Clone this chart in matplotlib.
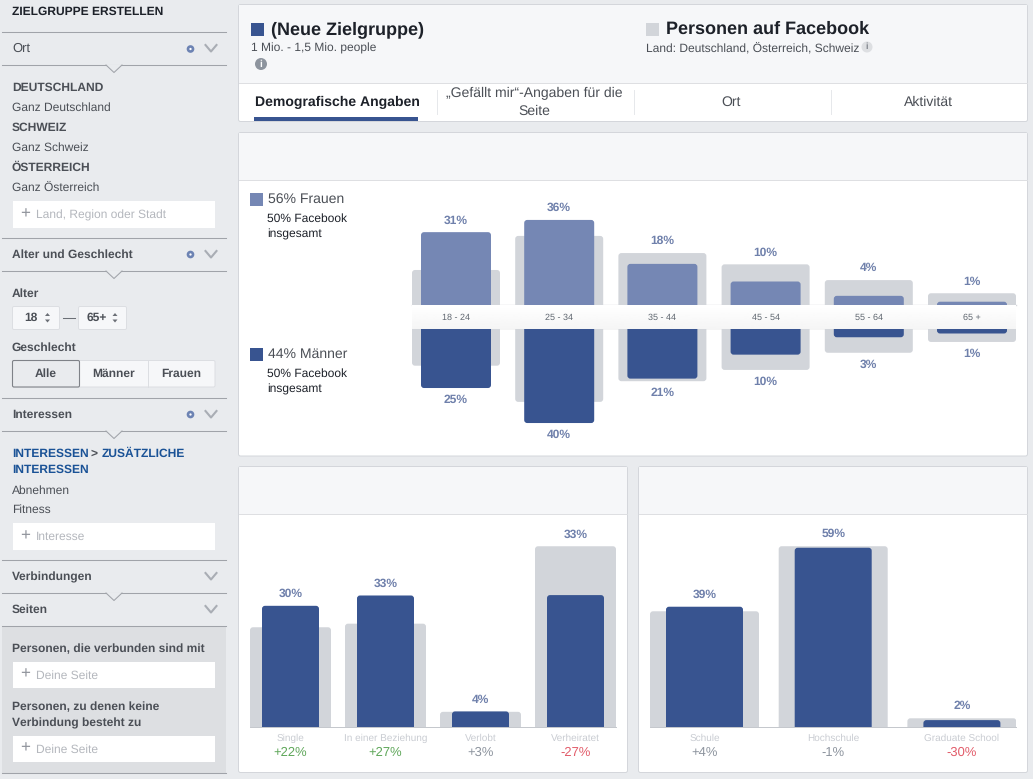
from matplotlib import pyplot as plt
from matplotlib.patches import FancyBboxPatch, Rectangle, Polygon, Circle
import numpy as np

plt.rcParams['font.family'] = ['Liberation Sans', 'DejaVu Sans']
plt.rcParams['text.hinting'] = 'none'
plt.rcParams['text.hinting_factor'] = 1

# age / gender chart
age_labels = ['18 - 24', '25 - 34', '35 - 44', '45 - 54', '55 - 64', '65 +']
women_text = ['31%', '36%', '18%', '10%', '4%', '1%']
men_text = ['25%', '40%', '21%', '10%', '3%', '1%']
women = [31, 36.2, 17.5, 10, 3.9, 1.4]
men = [24.9, 39.8, 20.9, 10.7, 3.3, 1.7]
women_fb = [14.9, 29.4, 22.1, 17.3, 10.6, 5]
men_fb = [15.4, 30.8, 22, 17.2, 9.9, 5.3]

# relationship chart
rel_labels = ['Single', 'In einer Beziehung', 'Verlobt', 'Verheiratet']
rel_text = ['30%', '33%', '4%', '33%']
rel_delta = ['+22%', '+27%', '+3%', '-27%']
rel = [30.4, 33, 3.8, 33.1]
rel_fb = [25, 25.9, 3.7, 45.4]

# education chart
edu_labels = ['Schule', 'Hochschule', 'Graduate School']
edu_text = ['39%', '59%', '2%']
edu_delta = ['+4%', '-1%', '-30%']
edu = [39.4, 58.8, 2.1]
edu_fb = [37.9, 59.3, 2.7]

BG = '#e9ebee'
BLUE = '#385490'
LIGHT = '#7587b4'
GREY = '#d2d5da'
LABEL = '#6f80ab'
BORDER = '#d3d6db'
W, H = 1033, 779


def px(size):
    return size * 0.72


fig = plt.figure(figsize=(W / 100, H / 100), dpi=100, facecolor=BG)
bg = fig.add_axes([0, 0, 1, 1])
bg.set_axis_off()


def box(x0, y0, x1, y1, fc='white', ec='none', lw=1, r=0, z=1):
    if r:
        p = FancyBboxPatch((x0, y0), x1 - x0, y1 - y0, boxstyle=f'round,pad=0,rounding_size={r}',
                           fc=fc, ec=ec, lw=lw, zorder=z)
    else:
        p = Rectangle((x0, y0), x1 - x0, y1 - y0, fc=fc, ec=ec, lw=lw, zorder=z)
    bg.add_patch(p)


def txt(x, y, s, size=12, color='#4b4f56', weight='normal', ha='left', z=5):
    bg.text(x, y + 1, s, fontsize=px(size), color=color, weight=weight, ha=ha, va='center', zorder=z)


def chart_axes(x0, x1, y0, y1, xlim_left, n_step, scale, invert=False):
    # axes placed in pixels, one x unit = n_step px, one y unit = scale px
    ax = fig.add_axes([x0 / W, 1 - y1 / H, (x1 - x0) / W, (y1 - y0) / H])
    ax.patch.set_alpha(0)
    ax.set_xlim(xlim_left, xlim_left + (x1 - x0) / n_step)
    top = (y1 - y0) / scale
    ax.set_ylim((top, 0) if invert else (0, top))
    for s in ax.spines.values():
        s.set_visible(False)
    ax.set_yticks([])
    ax.set_xticks([])
    return ax


def bars(ax, values, width, color, step, scale, z):
    for i, v in enumerate(values):
        p = FancyBboxPatch((i - width / 2, -2), width, v + 2,
                           boxstyle=f'round,pad=0,rounding_size={3 / step}',
                           mutation_aspect=step / scale, fc=color, ec='none', zorder=z)
        ax.add_patch(p)


def value_labels(ax, values, fb, labels, gap, sign=1):
    for i, t in enumerate(labels):
        ax.annotate(t, (i, max(values[i], fb[i])), xytext=(0, sign * px(gap)), textcoords='offset points',
                    ha='center', va='center', fontsize=px(12), weight='bold', color=LABEL,
                    annotation_clip=False)


bg.set_xlim(0, W)
bg.set_ylim(H, 0)

# --- sidebar ---
def rule(y):
    bg.plot([2, 226], [y, y], color='#a0a3a9', lw=0.75, zorder=2)


def notch(y):
    bg.add_patch(Polygon([[106, y - 0.3], [114, y + 7.5], [122, y - 0.3]], fc=BG, ec='none', zorder=3))
    bg.plot([106, 114, 122], [y, y + 7.5, y], color='#a0a3a9', lw=0.75, zorder=3)


def chevron(y):
    bg.plot([205.5, 211, 216.5], [y - 3.5, y + 3, y - 3.5], color='#a9adb4', lw=1.5, zorder=3)


def dot(y):
    bg.add_patch(Circle((190.5, y), 2.5, fc='white', ec='#6d83b3', lw=1.9, zorder=3))


def field(y0, y1, s):
    box(12.5, y0, 215, y1, fc='white')
    txt(20, (y0 + y1) / 2 - 1.5, '+', 17, '#90949c')
    txt(36, (y0 + y1) / 2, s, 12, '#b4b7bd')


txt(11.5, 11, 'ZIELGRUPPE ERSTELLEN', 12, '#1d2129', 'bold')
for y in [32, 65, 238, 271, 398, 431, 560, 593, 626, 773]:
    rule(y)
box(2, 626.5, 226, 773, fc='#dddfe2', z=1)
for y in [65, 271, 431, 593]:
    notch(y)
for y in [48.5, 254.5, 414.5, 576.5, 609.5]:
    chevron(y)
for y in [49, 254.5, 414.5]:
    dot(y)

txt(12, 48, 'Ort', 12.5)
for y, s, w in [(87, 'DEUTSCHLAND', 'bold'), (107, 'Ganz Deutschland', 'normal'),
                (127, 'SCHWEIZ', 'bold'), (147, 'Ganz Schweiz', 'normal'),
                (167, 'ÖSTERREICH', 'bold'), (187, 'Ganz Österreich', 'normal')]:
    txt(12, y, s, 12, weight=w)
field(201, 227.5, 'Land, Region oder Stadt')

txt(12, 254, 'Alter und Geschlecht', 12, weight='bold')
txt(12, 293, 'Alter', 12, weight='bold')
box(12.5, 306.5, 59.5, 329.5, fc='#f6f7f9', ec='#dcdee2', lw=0.7, r=1.5)
box(78.5, 306.5, 126.5, 329.5, fc='#f6f7f9', ec='#dcdee2', lw=0.7, r=1.5)
txt(30.5, 317, '18', 12, weight='bold', ha='center')
txt(97, 317, '65+', 12, weight='bold', ha='center')
for x in [47.5, 115]:
    bg.add_patch(Polygon([[x - 2.5, 316], [x + 2.5, 316], [x, 313]], fc='#6b6f76', ec='none', zorder=4))
    bg.add_patch(Polygon([[x - 2.5, 319.5], [x + 2.5, 319.5], [x, 322.5]], fc='#6b6f76', ec='none', zorder=4))
bg.plot([63, 75], [317.5, 317.5], color='#6b6f76', lw=0.75, zorder=3)
txt(12, 347, 'Geschlecht', 12, weight='bold')
box(12.5, 360.5, 215, 387, fc='#f6f7f9', ec='#dcdee2', lw=0.7, r=1.5)
box(12.5, 360.5, 79.5, 387, fc='#e9ebee', ec='#7f8288', lw=0.8, r=1.5, z=2)
bg.plot([147.5, 147.5], [361, 386.5], color='#dcdee2', lw=0.7, zorder=3)
txt(46, 373, 'Alle', 12, weight='bold', ha='center')
txt(113.5, 373, 'Männer', 12, weight='bold', ha='center')
txt(181, 373, 'Frauen', 12, weight='bold', ha='center')

txt(12, 414, 'Interessen', 12, weight='bold')
txt(12, 453, 'INTERESSEN', 12, '#1a5296', 'bold')
txt(90.5, 453, '>', 12, '#4b4f56', 'bold')
txt(102, 453, 'ZUSÄTZLICHE', 12, '#1a5296', 'bold')
txt(12, 469, 'INTERESSEN', 12, '#1a5296', 'bold')
txt(12, 489.5, 'Abnehmen', 12)
txt(12, 509, 'Fitness', 12)
field(523, 549.5, 'Interesse')
txt(12, 576, 'Verbindungen', 12, weight='bold')
txt(12, 609, 'Seiten', 12, weight='bold')
txt(12, 648, 'Personen, die verbunden sind mit', 12, weight='bold')
field(662, 688, 'Deine Seite')
txt(12, 706, 'Personen, zu denen keine', 12, weight='bold')
txt(12, 722, 'Verbindung besteht zu', 12, weight='bold')
field(736, 762, 'Deine Seite')

# --- top panel ---
box(238.5, 4.5, 1027.5, 121.5, fc='white', ec=BORDER, lw=0.7, r=2)
box(239, 5, 1027, 82.5, fc='#f6f7f9')
bg.plot([239, 1027], [82.5, 82.5], color='#dddfe2', lw=0.7, zorder=2)
box(251, 23, 264, 36, fc=BLUE)
txt(271, 28.5, '(Neue Zielgruppe)', 18, '#1d2129', 'bold')
txt(251, 47.5, '1 Mio. - 1,5 Mio. people', 12)
bg.add_patch(Circle((261, 64), 6, fc='#8d949e', ec='none', zorder=3))
txt(261, 63, 'i', 10, 'white', 'bold', ha='center')
box(646, 23, 659, 36, fc=GREY)
txt(666, 28.5, 'Personen auf Facebook', 18, '#1d2129', 'bold')
txt(646, 47.5, 'Land: Deutschland, Österreich, Schweiz', 12)
bg.add_patch(Circle((867, 47), 5.5, fc='#dddfe2', ec='none', zorder=3))
txt(867, 46, 'i', 9, '#80858d', 'bold', ha='center')

txt(337, 101.5, 'Demografische Angaben', 14, '#1d2129', 'bold', ha='center')
txt(534, 92.5, '„Gefällt mir“-Angaben für die', 14, ha='center')
txt(534, 110.5, 'Seite', 14, ha='center')
txt(731, 101.5, 'Ort', 14, ha='center')
txt(928, 101.5, 'Aktivität', 14, ha='center')
for x in [436.5, 633.5, 830.5]:
    bg.plot([x, x], [90, 114], color='#e6e8eb', lw=0.7, zorder=2)
box(254, 117, 418, 121, fc=BLUE, z=3)

# --- panels ---
box(238.5, 132.5, 1027.5, 456, fc='white', ec=BORDER, lw=0.7, r=2)
box(239, 133, 1027, 179.5, fc='#f6f7f9')
bg.plot([239, 1027], [179.5, 179.5], color='#dddfe2', lw=0.7, zorder=2)
for x0, x1 in [(238.5, 627.5), (638.5, 1027.5)]:
    box(x0, 466.5, x1, 772.5, fc='white', ec=BORDER, lw=0.7, r=2)
    box(x0 + 0.5, 467, x1 - 0.5, 513.5, fc='#f6f7f9')
    bg.plot([x0 + 0.5, x1 - 0.5], [513.5, 513.5], color='#dddfe2', lw=0.7, zorder=2)

# legend of age chart
box(250, 193, 263, 206, fc=LIGHT)
txt(268, 198.5, '56% Frauen', 14)
txt(267, 217.5, '50% Facebook', 12, '#1d2129')
txt(267, 233.5, 'insgesamt', 12, '#1d2129')
box(250, 348, 263, 361, fc=BLUE)
txt(268, 353.5, '44% Männer', 14)
txt(267, 372.5, '50% Facebook', 12, '#1d2129')
txt(267, 388.5, 'insgesamt', 12, '#1d2129')

# white band with the age labels
bg.plot([412, 1016], [304.5, 304.5], color='#d7d9dd', lw=1, zorder=2)
grad = np.linspace(1, 0.96, 24).reshape(-1, 1)
bg.imshow(grad, extent=[412, 1016, 329.5, 305], cmap='gray', vmin=0, vmax=1, aspect='auto', zorder=2)
bg.set_xlim(0, W)
bg.set_ylim(H, 0)

# --- age chart ---
STEP = 103.2
left = -44 / STEP
SC = 2.35
up = chart_axes(412, 1016, 190, 305, left, STEP, SC)
bars(up, women_fb, 88 / STEP, GREY, STEP, SC, 2)
bars(up, women, 70 / STEP, LIGHT, STEP, SC, 3)
value_labels(up, women, women_fb, women_text, 11.8)
down = chart_axes(412, 1016, 329.5, 440, left, STEP, SC, invert=True)
bars(down, men_fb, 88 / STEP, GREY, STEP, SC, 2)
bars(down, men, 70 / STEP, BLUE, STEP, SC, 3)
value_labels(down, men, men_fb, men_text, 12, sign=-1)
for i, s in enumerate(age_labels):
    up.annotate(s, (i, 0), xytext=(0, -px(13)), textcoords='offset points', ha='center', va='center',
                fontsize=px(9.5), color='#606770', annotation_clip=False)


def delta_color(s):
    v = int(s.replace('%', ''))
    if v >= 20:
        return '#5fa75a'
    if v <= -20:
        return '#e25c6a'
    return '#8d949e'


def lower_chart(x0, x1, step, scale, grey_w, col_w, values, fb, texts, cats, deltas):
    ax = chart_axes(x0, x1, 525, 726.5, -grey_w / step / 2, step, scale)
    bars(ax, fb, grey_w / step, GREY, step, scale, 2)
    bars(ax, values, col_w / step, BLUE, step, scale, 3)
    value_labels(ax, values, fb, texts, 12)
    ax.spines['bottom'].set_visible(True)
    ax.spines['bottom'].set_color('#c4c7cc')
    ax.spines['bottom'].set_linewidth(0.7)
    ax.set_xticks(range(len(cats)), cats)
    ax.tick_params(axis='x', length=0, pad=px(7), labelsize=px(10), labelcolor='#c9ccd2')
    for i, s in enumerate(deltas):
        ax.annotate(s, (i, 0), xytext=(0, -px(26)), textcoords='offset points', ha='center', va='center',
                    fontsize=px(12.5), color=delta_color(s), annotation_clip=False)


lower_chart(250, 616, 95, 3.97, 81, 57, rel, rel_fb, rel_text, rel_labels, rel_delta)
lower_chart(650, 1016, 128.7, 3.04, 109, 77, edu, edu_fb, edu_text, edu_labels, edu_delta)

fig.savefig('out.png', dpi=100, facecolor=BG)
